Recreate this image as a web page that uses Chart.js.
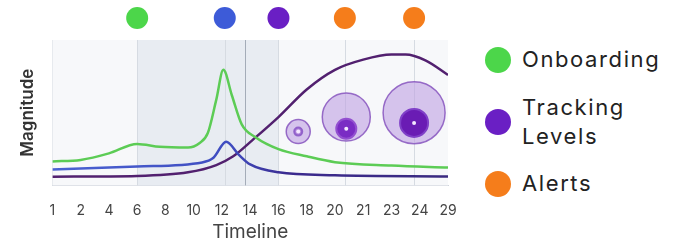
<!DOCTYPE html>
<html>
<head>
<meta charset="utf-8">
<script src="https://cdn.jsdelivr.net/npm/chart.js@4"></script>
<style>
  html, body { margin: 0; padding: 0; background: #fff; }
  #wrap { position: relative; width: 673px; height: 246px; overflow: hidden; }
  #timelineChart { position: absolute; left: 0; top: 0; }
  #legend { position: absolute; left: 485px; top: 0; font-family: Inter, sans-serif; font-size: 22px; color: #222; letter-spacing: 1.6px; }
  .item { position: absolute; left: 0; display: flex; align-items: center; white-space: nowrap; }
  .dot { width: 26px; height: 26px; border-radius: 50%; margin-right: 11px; flex: none; }
  .txt { line-height: 29px; }
</style>
</head>
<body>
<div id="wrap">
  <canvas id="timelineChart" width="462" height="246"></canvas>
  <div id="legend"></div>
</div>
<script>
// tick labels along the timeline (one per category index)
const tickLabels = ['1', '2', '4', '6', '8', '10', '12', '14', '16', '18', '20', '21', '23', '24', '29'];

// Onboarding curve (green)
const onboardingX = [0, 1, 2, 3, 3.8, 4.8, 5.2, 5.5, 5.8, 6.05, 6.35, 6.7, 7.2, 8, 9, 10, 12, 14];
const onboardingY = [16.5, 17.5, 22, 28.5, 26.5, 26, 29, 36, 59, 79.5, 62, 42, 33, 25, 20, 16, 13.7, 12.3];

// Tracking curve (blue)
const trackingX = [0, 3, 5.3, 5.7, 6.15, 6.6, 7, 8, 10, 14];
const trackingY = [11, 13, 15.8, 19, 30, 21, 14.4, 9, 7, 6.2];

// Levels curve (dark purple)
const levelsX = [0, 3, 4.8, 5.8, 6.4, 7.1, 8, 9, 10, 11, 12, 12.5, 13.2, 14];
const levelsY = [6, 6.5, 9, 14, 20, 31.5, 47, 66, 79.5, 86.5, 90, 90, 86, 76];

// level bubbles: outer ring, inner core
const bubbleX = [8.7, 10.4, 12.8];
const bubbleY = [37, 47, 50];
const bubbleOuter = [12, 24, 31];
const coreY = [37, 39, 43];
const coreSize = [4, 10, 14];

// event markers above the plot
const eventX = [3, 6.1, 8, 10.35, 12.8];
const eventColors = ['#4cd64a', '#3d5bd8', '#6a1fc4', '#f57d1b', '#f57d1b'];

// guide lines and shaded band (timeline values)
const guideX = [3, 6.1, 6.8, 8, 10.35, 12.8];
const bandRange = [3, 8];

const legendItems = [
    { label: ['Onboarding'], color: '#4cd64a', top: 45 },
    { label: ['Tracking', 'Levels'], color: '#6a1fc4', top: 93 },
    { label: ['Alerts'], color: '#f57d1b', top: 169 }
];

function pts(xs, ys) {
    return xs.map((x, i) => ({ x: x, y: ys[i] }));
}

// background, band, guide lines behind the datasets
const guidePlugin = {
    id: 'guides',
    beforeDatasetsDraw(chart) {
        const { ctx, chartArea: a, scales: { x } } = chart;
        ctx.save();
        ctx.fillStyle = '#f7f8fa';
        ctx.fillRect(a.left, a.top, a.right - a.left, a.bottom - a.top);
        const b0 = x.getPixelForValue(bandRange[0]);
        const b1 = x.getPixelForValue(bandRange[1]);
        ctx.fillStyle = 'rgba(218,224,233,0.5)';
        ctx.fillRect(b0, a.top, b1 - b0, a.bottom - a.top);
        guideX.forEach((v, i) => {
            const px = Math.round(x.getPixelForValue(v)) + 0.5;
            ctx.strokeStyle = i === 2 ? '#a4acb8' : '#d6dbe2';
            ctx.lineWidth = 1;
            ctx.beginPath();
            ctx.moveTo(px, a.top);
            ctx.lineTo(px, a.bottom);
            ctx.stroke();
        });
        ctx.restore();
    },
    // event dots sit in the band above the chart area
    afterDraw(chart) {
        const { ctx, chartArea: a, scales: { x } } = chart;
        ctx.save();
        eventX.forEach((v, i) => {
            ctx.fillStyle = eventColors[i];
            ctx.beginPath();
            ctx.arc(x.getPixelForValue(v), a.top - 22, 11, 0, Math.PI * 2);
            ctx.fill();
        });
        ctx.restore();
    }
};

function trackingGradient(context) {
    const a = context.chart.chartArea;
    if (!a) return '#3f4cb8';
    const g = context.chart.ctx.createLinearGradient(a.left, 0, a.right, 0);
    g.addColorStop(0, '#4a62d2');
    g.addColorStop(0.45, '#3f4cc0');
    g.addColorStop(0.6, '#3b2a8e');
    g.addColorStop(1, '#3a2a80');
    return g;
}

const lineBase = {
    type: 'line',
    pointRadius: 0,
    borderWidth: 2.5,
    fill: false,
    cubicInterpolationMode: 'monotone',
    order: 1
};

new Chart(document.getElementById('timelineChart'), {
    type: 'line',
    data: {
        datasets: [
            Object.assign({}, lineBase, { label: 'Onboarding', data: pts(onboardingX, onboardingY), borderColor: '#5ccc55' }),
            Object.assign({}, lineBase, { label: 'Tracking', data: pts(trackingX, trackingY), borderColor: trackingGradient }),
            Object.assign({}, lineBase, { label: 'Levels', data: pts(levelsX, levelsY), borderColor: '#52206f' }),
            {
                type: 'bubble',
                label: 'Level outer',
                data: bubbleX.map((x, i) => ({ x: x, y: bubbleY[i], r: bubbleOuter[i] })),
                backgroundColor: 'rgba(190,160,226,0.6)',
                borderColor: 'rgba(135,85,190,0.85)',
                borderWidth: 1.5,
                order: 3
            },
            {
                type: 'bubble',
                label: 'Level core',
                data: bubbleX.map((x, i) => ({ x: x, y: coreY[i], r: coreSize[i] })),
                backgroundColor: ['rgba(170,120,215,0.8)', '#7a2cc4', '#6a1cb4'],
                borderColor: ['rgba(140,90,200,0.9)', '#9350d0', '#8040c8'],
                borderWidth: 2,
                order: 2
            },
            {
                type: 'bubble',
                label: 'Level dot',
                data: bubbleX.map((x, i) => ({ x: x, y: coreY[i], r: 2 })),
                backgroundColor: '#f4e8ff',
                borderWidth: 0,
                order: 0
            }
        ]
    },
    options: {
        responsive: false,
        animation: false,
        layout: { autoPadding: false, padding: { left: 18, top: 40, right: 14, bottom: 2 } },
        plugins: {
            legend: { display: false },
            tooltip: { enabled: false }
        },
        scales: {
            x: {
                type: 'linear',
                min: 0,
                max: 14,
                grid: { display: false, drawTicks: true, tickLength: 14 },
                border: { color: '#cfd4dc' },
                ticks: {
                    stepSize: 1,
                    autoSkip: false,
                    maxRotation: 0,
                    padding: 3,
                    color: '#444',
                    font: { family: 'Inter', size: 14 },
                    callback: v => tickLabels[v]
                },
                title: {
                    display: true,
                    text: 'Timeline',
                    color: '#444',
                    font: { family: 'Inter', size: 19 },
                    padding: { top: -1, bottom: 0 }
                }
            },
            y: {
                min: 0,
                max: 100,
                grid: { display: false },
                border: { color: '#cfd4dc' },
                ticks: { display: false },
                title: {
                    display: true,
                    text: 'Magnitude',
                    color: '#333',
                    font: { family: 'Inter', size: 17, weight: '600' },
                    padding: { top: 0, bottom: 6 }
                }
            }
        }
    },
    plugins: [guidePlugin]
});

// legend on the right side
const legendEl = document.getElementById('legend');
legendItems.forEach(it => {
    const row = document.createElement('div');
    row.className = 'item';
    row.style.top = it.top + 'px';
    const dot = document.createElement('span');
    dot.className = 'dot';
    dot.style.background = it.color;
    const txt = document.createElement('span');
    txt.className = 'txt';
    txt.innerHTML = it.label.join('<br>');
    row.appendChild(dot);
    row.appendChild(txt);
    legendEl.appendChild(row);
});
</script>
</body>
</html>
